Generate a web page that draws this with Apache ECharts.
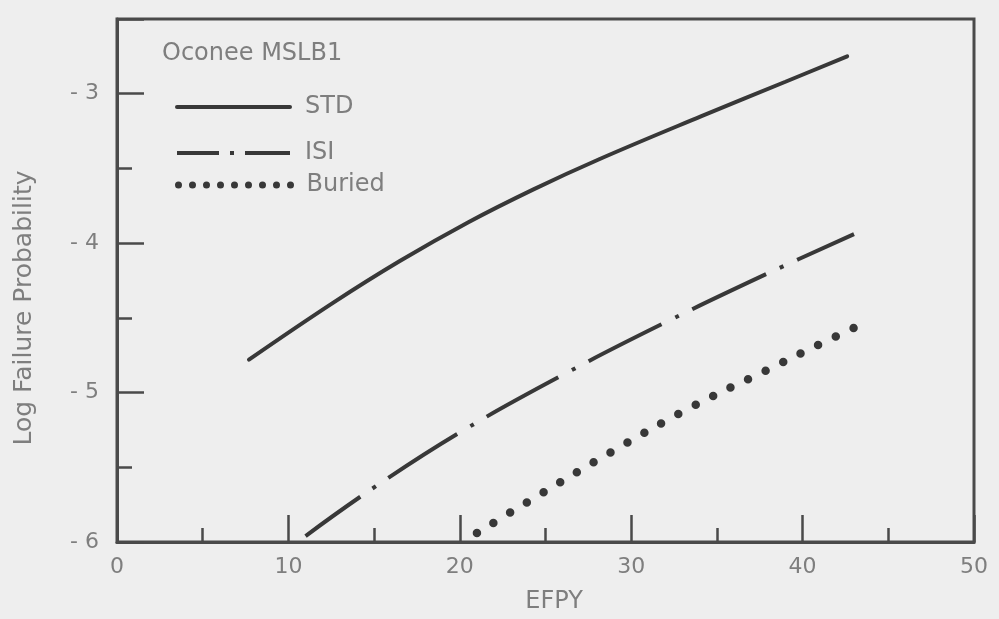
<!DOCTYPE html>
<html>
<head>
<meta charset="utf-8">
<script src="https://cdn.jsdelivr.net/npm/echarts@6/dist/echarts.min.js"></script>
<style>
  html, body { margin: 0; padding: 0; background: #eeeeee; }
  #chart { width: 999px; height: 619px; }
</style>
</head>
<body>
<div id="chart"></div>
<script>
// Oconee MSLB1: log failure probability versus effective full-power years
const stdYears   = [7.7, 12.6, 16.5, 20.5, 24.3, 28.1, 34.1, 39.0, 42.6];
const stdLogP    = [-4.78, -4.40, -4.12, -3.86, -3.64, -3.44, -3.15, -2.92, -2.75];

const isiYears   = [11.0, 14.8, 20.1, 26.2, 32.0, 38.2, 43.0];
const isiLogP    = [-5.96, -5.65, -5.26, -4.87, -4.53, -4.19, -3.94];

const buriedYears = [21.0, 24.7, 28.8, 33.3, 37.9, 41.1, 43.7];
const buriedLogP  = [-5.94, -5.68, -5.40, -5.11, -4.85, -4.67, -4.53];

const xTickLabels = [0, 10, 20, 30, 40, 50];
const yTickLabels = [-6, -5, -4, -3];

const seriesNames = ['STD', 'ISI', 'Buried'];

const ink = '#383838';
const frame = '#4a4a4a';
const textGrey = '#7e7e7e';
const fontFamily = '"DejaVu Sans", "Liberation Sans", sans-serif';

function pairs(xs, ys) {
  return xs.map((x, i) => [x, ys[i]]);
}

const chart = echarts.init(document.getElementById('chart'), null, { renderer: 'canvas' });

const legendBase = {
  orient: 'horizontal',
  left: 175,
  itemWidth: 113,
  itemHeight: 14,
  padding: 0,
  selectedMode: false,
  textStyle: { color: textGrey, fontSize: 24, fontFamily: fontFamily, padding: [0, 0, 0, 10] }
};

chart.setOption({
  animation: false,
  backgroundColor: '#eeeeee',
  title: {
    text: 'Oconee MSLB1',
    left: 162,
    top: 42,
    padding: 0,
    textStyle: { color: textGrey, fontSize: 24, fontWeight: 'normal', fontFamily: fontFamily }
  },
  legend: [
    Object.assign({}, legendBase, {
      top: 95,
      data: [{ name: seriesNames[0], itemStyle: { opacity: 0 },
               lineStyle: { width: 4, color: ink, type: 'solid' } }]
    }),
    Object.assign({}, legendBase, {
      top: 141,
      data: [{ name: seriesNames[1], itemStyle: { opacity: 0 },
               lineStyle: { width: 4, color: ink, type: [42, 11, 4, 11, 45, 11], dashOffset: 0, cap: 'butt' } }]
    }),
    Object.assign({}, legendBase, {
      top: 173,
      data: [{ name: seriesNames[2], itemStyle: { opacity: 0 },
               lineStyle: { width: 7, color: ink, type: [0, 14], cap: 'round' } }]
    })
  ],
  grid: {
    left: 117, right: 25, top: 19, bottom: 75,
    show: true,
    borderColor: frame,
    borderWidth: 3,
    backgroundColor: 'transparent'
  },
  xAxis: [
    {
      type: 'value', position: 'bottom', min: 0, max: 50, interval: 5,
      axisLine: { show: true, lineStyle: { color: frame, width: 3 } },
      axisTick: { show: true, inside: true, length: 14, lineStyle: { color: frame, width: 2.5 } },
      axisLabel: { show: false },
      splitLine: { show: false },
      name: 'EFPY',
      nameLocation: 'middle',
      nameGap: 48,
      nameTextStyle: { color: textGrey, fontSize: 24, fontFamily: fontFamily, padding: [0, 0, 0, 17] }
    },
    {
      type: 'value', position: 'bottom', min: 0, max: 50, interval: 10,
      axisLine: { show: false },
      axisTick: { show: true, inside: true, length: 27, lineStyle: { color: frame, width: 2.5 } },
      axisLabel: {
        show: true, margin: 14, color: textGrey, fontSize: 22, fontFamily: fontFamily,
        formatter: v => (xTickLabels.indexOf(v) >= 0 ? String(v) : '')
      },
      splitLine: { show: false }
    }
  ],
  yAxis: [
    {
      type: 'value', position: 'left', min: -6, max: -2.5, interval: 0.5,
      axisLine: { show: true, lineStyle: { color: frame, width: 3 } },
      axisTick: { show: true, inside: true, length: 15, lineStyle: { color: frame, width: 2.5 } },
      axisLabel: {
        show: true, margin: 18, color: textGrey, fontSize: 22, fontFamily: fontFamily,
        formatter: v => (yTickLabels.indexOf(v) >= 0 ? '- ' + Math.abs(v) : '')
      },
      splitLine: { show: false },
      name: 'Log Failure Probability',
      nameLocation: 'middle',
      nameRotate: 90,
      nameGap: 80,
      nameTextStyle: { color: textGrey, fontSize: 25, fontFamily: fontFamily, padding: [0, 55, 0, 0] }
    },
    {
      type: 'value', position: 'left', min: -6, max: -2.5, interval: 1,
      axisLine: { show: false },
      axisTick: { show: true, inside: true, length: 27, lineStyle: { color: frame, width: 2.5 } },
      axisLabel: { show: false },
      splitLine: { show: false }
    }
  ],
  series: [
    {
      name: seriesNames[0], type: 'line', xAxisIndex: 0, yAxisIndex: 0,
      data: pairs(stdYears, stdLogP),
      smooth: 0.4, symbol: 'none',
      lineStyle: { color: ink, width: 4, cap: 'round' },
      itemStyle: { color: ink }
    },
    {
      name: seriesNames[1], type: 'line', xAxisIndex: 0, yAxisIndex: 0,
      data: pairs(isiYears, isiLogP),
      smooth: 0.4, symbol: 'none',
      lineStyle: { color: ink, width: 4, type: [82, 15, 4, 15], dashOffset: 15, cap: 'butt' },
      itemStyle: { color: ink }
    },
    {
      name: seriesNames[2], type: 'line', xAxisIndex: 0, yAxisIndex: 0,
      data: pairs(buriedYears, buriedLogP),
      smooth: 0.4, symbol: 'none',
      lineStyle: { color: ink, width: 8.5, type: [0, 19.5], cap: 'round' },
      itemStyle: { color: ink }
    }
  ]
});
</script>
</body>
</html>
